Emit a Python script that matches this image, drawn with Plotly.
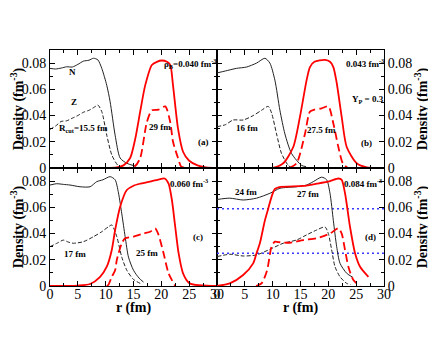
import plotly.graph_objects as go
from plotly.subplots import make_subplots

# ---- data (r in fm, density in fm^-3) ----
# panel (a) rho_B = 0.040
a_N_r = [0, 1, 2, 3, 4, 5, 6, 7, 7.8, 8.6, 9.3, 10.2, 10.8, 11.7, 12.6, 13.8, 15.3]
a_N_d = [0.0760, 0.0755, 0.0762, 0.0772, 0.0770, 0.0790, 0.0815, 0.0822, 0.0837, 0.0825,
         0.0760, 0.0630, 0.0506, 0.0250, 0.0076, 0.0036, 0.0015]
a_Z_r = [0, 1, 2, 3, 4, 5, 6, 7, 8, 8.6, 9.3, 10.2, 11.1, 12.2, 13.2]
a_Z_d = [0.0295, 0.0320, 0.0355, 0.0360, 0.0380, 0.0400, 0.0425, 0.0440, 0.0465, 0.0480,
         0.0430, 0.0250, 0.0100, 0.0020, 0.0]
a_n_r = [0, 10, 12, 13.2, 14.4, 15.3, 16.2, 17.1, 18.3, 19.2, 20.1, 21, 21.6, 22.1, 23,
         23.9, 25, 26.5, 28, 30]
a_n_d = [0, 0, 0.0005, 0.002, 0.0076, 0.022, 0.043, 0.063, 0.0786, 0.081, 0.082, 0.081,
         0.0786, 0.063, 0.030, 0.0124, 0.0055, 0.002, 0.0005, 0]
a_p_r = [13, 14, 15.3, 16.2, 17.4, 18.3, 19.5, 20.7, 21.6, 22.1, 23, 23.6, 25]
a_p_d = [0, 0, 0.0015, 0.0076, 0.035, 0.044, 0.0445, 0.047, 0.035, 0.020, 0.0076, 0.001, 0]

# panel (b) rho_B = 0.043
b_N_r = [0, 1.5, 3.5, 5.3, 7.1, 8.6, 9.5, 10.4, 11.3, 12.2, 13.4, 15.2, 16]
b_N_d = [0.0725, 0.074, 0.076, 0.077, 0.080, 0.0837, 0.080, 0.067, 0.044, 0.026, 0.011,
         0.002, 0.001]
b_Z_r = [0, 1.5, 2.9, 4.7, 6.5, 8, 9.2, 9.8, 10.7, 11.6, 12.8, 13.5]
b_Z_d = [0.0315, 0.033, 0.0366, 0.0366, 0.040, 0.044, 0.047, 0.042, 0.026, 0.011, 0.002, 0]
b_n_r = [0, 10, 11.9, 13.7, 14.9, 16.1, 16.7, 17.5, 19.4, 20.3, 20.9, 21.5, 22.4, 23.3,
         25.1, 26.9, 30]
b_n_d = [0, 0, 0.0036, 0.016, 0.039, 0.067, 0.077, 0.081, 0.0824, 0.081, 0.077, 0.065,
         0.039, 0.016, 0.0036, 0.0005, 0]
b_p_r = [13, 14.3, 15.8, 16.7, 17.5, 18.8, 20, 20.9, 21.8, 22.6, 23.5]
b_p_d = [0, 0.0036, 0.026, 0.043, 0.0445, 0.0455, 0.047, 0.034, 0.016, 0.0036, 0]

# panel (c) rho_B = 0.060
c_N_r = [0, 1.2, 2.4, 3.6, 5.4, 7.2, 8.4, 9.5, 10.8, 11.7, 12.3, 12.9, 13.5, 14.1, 15,
         16, 16.8]
c_N_d = [0.077, 0.078, 0.0775, 0.077, 0.0757, 0.0757, 0.0796, 0.081, 0.0834, 0.081,
         0.071, 0.055, 0.0376, 0.022, 0.012, 0.006, 0.003]
c_Z_r = [0, 1.2, 2.4, 3.3, 4.2, 6, 7.8, 9.3, 10.5, 11.1, 12, 12.9, 13.8, 15, 16.2]
c_Z_d = [0.030, 0.0325, 0.035, 0.0335, 0.0326, 0.0338, 0.0376, 0.0414, 0.0452, 0.0465,
         0.0376, 0.022, 0.012, 0.005, 0.002]
c_n_r = [0, 5, 7.2, 9, 10.2, 11.1, 11.7, 12.6, 13.8, 15, 16.2, 18, 19.8, 20.6, 21.3, 21.9,
         22.5, 23.1, 23.9, 25.1, 30]
c_n_d = [0, 0.0003, 0.0015, 0.007, 0.0147, 0.0275, 0.0427, 0.0605, 0.0732, 0.0765, 0.078,
         0.0796, 0.0816, 0.082, 0.078, 0.0656, 0.045, 0.025, 0.0097, 0.002, 0]
c_p_r = [10.2, 10.5, 11.1, 11.7, 12, 12.9, 13.5, 15, 16.8, 18, 18.9, 19.5, 20.4, 21.3, 22.5]
c_p_d = [0, 0.001, 0.007, 0.012, 0.0198, 0.0326, 0.0364, 0.0376, 0.040, 0.0414, 0.044,
         0.039, 0.025, 0.0097, 0]

# panel (d) rho_B = 0.084
d_N_r = [0, 2.3, 4.7, 7.1, 9.5, 11.3, 14.3, 16.1, 17.3, 18.8, 19.7, 20.3, 20.9, 21.5, 22.1,
         23.3, 24.4]
d_N_d = [0.066, 0.067, 0.0656, 0.067, 0.0707, 0.0745, 0.0757, 0.077, 0.0796, 0.083, 0.081,
         0.0707, 0.050, 0.030, 0.0173, 0.0097, 0.0066]
d_Z_r = [0, 2.3, 4.7, 7.1, 9.5, 11.9, 14.3, 16.1, 17.9, 19.4, 20, 20.6, 21.2, 22.1, 23.3, 24]
d_Z_d = [0.0224, 0.0242, 0.0229, 0.0237, 0.028, 0.0326, 0.0351, 0.039, 0.0427, 0.045, 0.040,
         0.0275, 0.0147, 0.007, 0.002, 0.001]
d_n_r = [0, 2.3, 4.7, 6.5, 7.1, 7.7, 8.6, 9.2, 9.8, 10.4, 11.2, 15.5, 17.9, 20.3, 21.8, 22.4,
         23, 23.9, 24.8, 25.7, 27.2]
d_n_d = [0, 0.002, 0.0084, 0.0173, 0.025, 0.0326, 0.050, 0.059, 0.068, 0.074, 0.0755,
         0.0763, 0.078, 0.080, 0.082, 0.081, 0.0707, 0.045, 0.025, 0.0147, 0.007]
d_p_r = [7, 8, 9, 9.8, 10.4, 11, 13.1, 15.5, 17.9, 20.3, 21.8, 22.4, 23, 23.6, 24.5, 25.7]
d_p_d = [0, 0.002, 0.012, 0.030, 0.0338, 0.0335, 0.033, 0.035, 0.0364, 0.040, 0.044,
         0.040, 0.0275, 0.0147, 0.0046, 0]
d_levels = [0.059, 0.025]
r_span = [0, 30]

y_ticks = [0, 0.02, 0.04, 0.06, 0.08]
y_ticktext = ["0", "0.02", "0.04", "0.06", "0.08"]
x_ticks = [0, 5, 10, 15, 20, 25, 30]
x_ticktext = ["0", "5", "10", "15", "20", "25", "30"]

panels = [
    (1, 1, a_N_r, a_N_d, a_Z_r, a_Z_d, a_n_r, a_n_d, a_p_r, a_p_d),
    (1, 2, b_N_r, b_N_d, b_Z_r, b_Z_d, b_n_r, b_n_d, b_p_r, b_p_d),
    (2, 1, c_N_r, c_N_d, c_Z_r, c_Z_d, c_n_r, c_n_d, c_p_r, c_p_d),
    (2, 2, d_N_r, d_N_d, d_Z_r, d_Z_d, d_n_r, d_n_d, d_p_r, d_p_d),
]

fig = make_subplots(rows=2, cols=2, horizontal_spacing=0, vertical_spacing=0)

for row, col, nr, nd, zr, zd, rr, rd, pr, pd_ in panels:
    if row == 2 and col == 2:
        for lev in d_levels:
            fig.add_trace(go.Scatter(x=r_span, y=[lev, lev], mode="lines",
                                     line=dict(color="#3b3bff", width=1.5, dash="2px,3px")),
                          row=row, col=col)
    fig.add_trace(go.Scatter(x=nr, y=nd, mode="lines", line_shape="spline",
                             line=dict(color="#222", width=1, smoothing=0.7)), row=row, col=col)
    fig.add_trace(go.Scatter(x=zr, y=zd, mode="lines", line_shape="spline",
                             line=dict(color="#222", width=1, dash="4px,2px", smoothing=0.7)),
                  row=row, col=col)
    fig.add_trace(go.Scatter(x=rr, y=rd, mode="lines", line_shape="spline",
                             line=dict(color="#ff0000", width=1.8, smoothing=0.7)), row=row, col=col)
    fig.add_trace(go.Scatter(x=pr, y=pd_, mode="lines", line_shape="spline",
                             line=dict(color="#ff0000", width=1.8, dash="8px,4px", smoothing=0.7)),
                  row=row, col=col)

tick_font = dict(family="Liberation Serif", size=14, color="black")
title_font = dict(family="Liberation Serif", size=14, color="black")
common = dict(showline=True, linecolor="black", linewidth=1, mirror="allticks",
              ticks="inside", ticklen=5, tickcolor="black", showgrid=False, zeroline=False,
              tickfont=tick_font, automargin=False)

for row in (1, 2):
    for col in (1, 2):
        fig.update_xaxes(range=[0, 30], tickmode="array", tickvals=x_ticks,
                         ticktext=x_ticktext, showticklabels=(row == 2), ticklabelstandoff=-5,
                         minor=dict(ticks="inside", ticklen=3, tickcolor="black", dtick=2.5, tick0=0),
                         row=row, col=col, **common)
        fig.update_yaxes(range=[0, 0.09], tickmode="array", tickvals=y_ticks,
                         ticktext=y_ticktext, side="left" if col == 1 else "right",
                         minor=dict(ticks="inside", ticklen=3, tickcolor="black", dtick=0.01, tick0=0),
                         title=dict(text="<b>Density (fm<sup>-3</sup>)</b>", font=title_font, standoff=4),
                         row=row, col=col, **common)

# x titles placed just under the tick labels of the bottom row
for xd in ("x3 domain", "x4 domain"):
    yd = "y3 domain" if xd.startswith("x3") else "y4 domain"
    fig.add_annotation(x=0.5, y=-0.19, xref=xd, yref=yd, text="<b>r (fm)</b>",
                       showarrow=False, font=title_font, yanchor="middle")

ann_font = dict(family="Liberation Serif", size=9, color="black")
notes = [
    ("x", "y", 4.1, 0.073, "N"),
    ("x", "y", 4.3, 0.050, "Z"),
    ("x", "y", 6.0, 0.0305, "R<sub>cut</sub>=15.5 fm"),
    ("x", "y", 25.2, 0.080, "ρ<sub>B</sub>=0.040 fm<sup>-3</sup>"),
    ("x", "y", 19.8, 0.031, "29 fm"),
    ("x", "y", 27.5, 0.020, "(a)"),
    ("x2", "y2", 26.6, 0.080, "0.043 fm<sup>-3</sup>"),
    ("x2", "y2", 27.1, 0.052, "Y<sub>P</sub> = 0.3"),
    ("x2", "y2", 5.4, 0.0305, "16 fm"),
    ("x2", "y2", 18.8, 0.029, "27.5 fm"),
    ("x2", "y2", 26.9, 0.019, "(b)"),
    ("x3", "y3", 25.0, 0.0786, "0.060 fm<sup>-3</sup>"),
    ("x3", "y3", 26.6, 0.0374, "(c)"),
    ("x3", "y3", 4.5, 0.0244, "17 fm"),
    ("x3", "y3", 17.4, 0.0252, "25 fm"),
    ("x4", "y4", 5.2, 0.0717, "24 fm"),
    ("x4", "y4", 16.3, 0.0702, "27 fm"),
    ("x4", "y4", 26.2, 0.0786, "0.084 fm<sup>-3</sup>"),
    ("x4", "y4", 27.5, 0.0374, "(d)"),
]
for xr, yr, xv, yv, txt in notes:
    fig.add_annotation(x=xv, y=yv, xref=xr, yref=yr, text="<b>" + txt + "</b>",
                       showarrow=False, font=ann_font)

# the page body adds an 8px offset, so the margins are shifted by that amount
fig.update_layout(width=436, height=337, showlegend=False,
                  margin=dict(l=42, r=60, t=42, b=59),
                  plot_bgcolor="white", paper_bgcolor="white")
fig.write_html("out.html")
